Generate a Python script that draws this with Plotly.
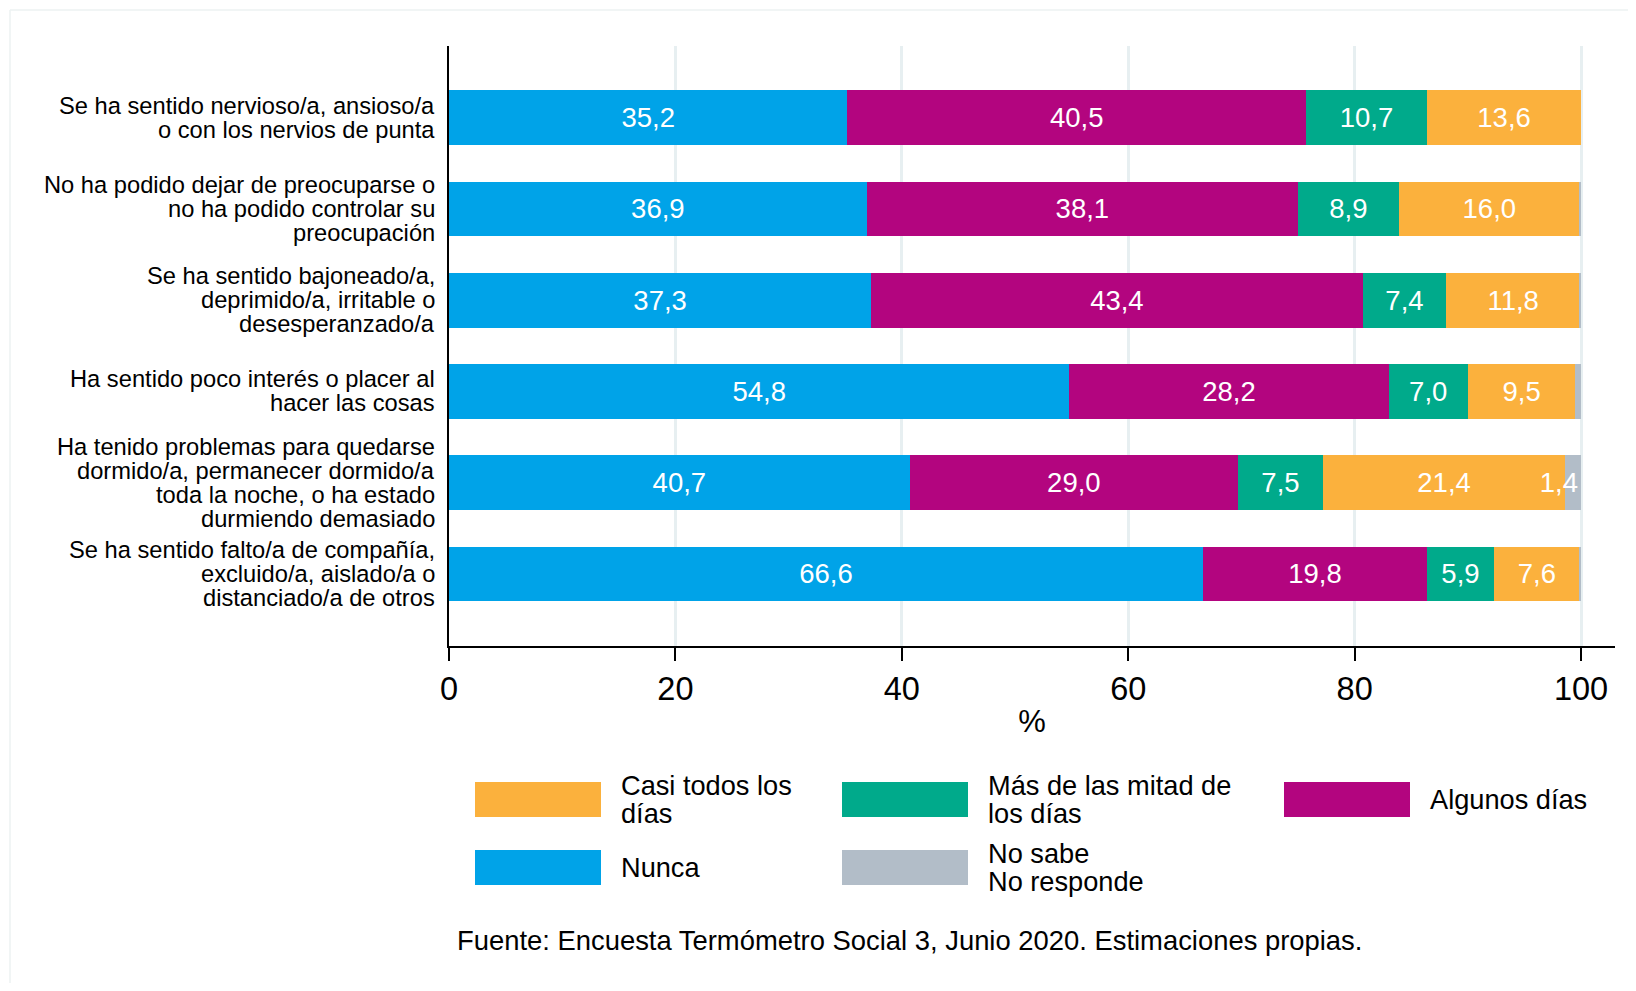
import plotly.graph_objects as go

# ---------------- data ----------------
item_lines = [
    ["Se ha sentido nervioso/a, ansioso/a", "o con los nervios de punta"],
    ["No ha podido dejar de preocuparse o", "no ha podido controlar su", "preocupación"],
    ["Se ha sentido bajoneado/a,", "deprimido/a, irritable o", "desesperanzado/a"],
    ["Ha sentido poco interés o placer al", "hacer las cosas"],
    ["Ha tenido problemas para quedarse", "dormido/a, permanecer dormido/a",
     "toda la noche, o ha estado", "durmiendo demasiado"],
    ["Se ha sentido falto/a de compañía,", "excluido/a, aislado/a o",
     "distanciado/a de otros"],
]

nunca = [35.2, 36.9, 37.3, 54.8, 40.7, 66.6]
algunos = [40.5, 38.1, 43.4, 28.2, 29.0, 19.8]
mas_mitad = [10.7, 8.9, 7.4, 7.0, 7.5, 5.9]
casi_todos = [13.6, 16.0, 11.8, 9.5, 21.4, 7.6]
no_sabe = [0.0, 0.1, 0.1, 0.5, 1.4, 0.1]

series_names = ["Nunca", "Algunos días", "Más de las mitad de los días",
                "Casi todos los días", "No sabe No responde"]
series_values = [nunca, algunos, mas_mitad, casi_todos, no_sabe]
series_colors = ["#00a3e8", "#b3057f", "#00aa8b", "#fbb13d", "#b2bdc8"]

x_ticks = [0, 20, 40, 60, 80, 100]
x_title = "%"
source_text = "Fuente: Encuesta Termómetro Social 3, Junio 2020. Estimaciones propias."

# legend layout (order & wrapped text as in the reference)
legend_items = [
    (3, ["Casi todos los", "días"]),
    (2, ["Más de las mitad de", "los días"]),
    (1, ["Algunos días"]),
    (0, ["Nunca"]),
    (4, ["No sabe", "No responde"]),
]

FONT = "Liberation Sans, Arial, sans-serif"
OFF = 8                      # page body margin
PAGE_W, PAGE_H = 1636, 991
W, H = PAGE_W - 2 * OFF, PAGE_H - 2 * OFF
# plot area in page pixels: x 449..1615, y 46..646
ML = 449 - OFF
MT = 46 - OFF
MR = W - (1615 - OFF)
MB = H - (646 - OFF)
PW, PH = W - ML - MR, H - MT - MB


def px_x(px):  # page px -> paper
    return (px - OFF - ML) / PW


def px_y(py):
    return (H - MB - (py - OFF)) / PH


def fmt(v):
    return f"{v:.1f}".replace(".", ",")


fig = go.Figure()
ypos = list(range(len(item_lines)))
for name, vals, col in zip(series_names, series_values, series_colors):
    is_last = name == series_names[-1]
    fig.add_trace(go.Bar(
        y=ypos, x=vals, name=name, orientation="h",
        marker=dict(color=col, line=dict(width=0)),
        width=0.6,
        text=[fmt(v) if v >= 1 else "" for v in vals],
        textposition="inside", textangle=0,
        insidetextanchor="end" if is_last else "middle",
        constraintext="none",
        textfont=dict(family=FONT, size=27.5, color="white"),
        showlegend=False,
        hoverinfo="x+name",
    ))

annotations = []
# y category labels, one annotation per line
LINE_STEP = 24
for i, lines in enumerate(item_lines):
    n = len(lines)
    for j, ln in enumerate(lines):
        off = (j - (n - 1) / 2) * LINE_STEP
        annotations.append(dict(
            x=0, xref="paper", y=i, yref="y", text=ln, showarrow=False,
            xanchor="right", yanchor="middle", xshift=-12, yshift=-off,
            font=dict(family=FONT, size=23.7, color="black"), align="right"))

# legend drawn with shapes + text
shapes = []
sw_x = [(475, 601), (842, 968), (1284, 1410)]
txt_x = [619, 986, 1428]
rows_y = [(782, 817), (850, 885)]
LEG_STEP = 27.5
for k, (si, lines) in enumerate(legend_items):
    col_i = k % 3
    row_i = k // 3
    x0, x1 = sw_x[col_i]
    y0, y1 = rows_y[row_i]
    shapes.append(dict(type="rect", xref="paper", yref="paper",
                       x0=px_x(x0), x1=px_x(x1), y0=px_y(y1), y1=px_y(y0),
                       fillcolor=series_colors[si], line=dict(width=0)))
    yc = (y0 + y1) / 2
    n = len(lines)
    for j, ln in enumerate(lines):
        off = (j - (n - 1) / 2) * LEG_STEP
        annotations.append(dict(
            x=px_x(txt_x[col_i]), xref="paper", y=px_y(yc + off), yref="paper",
            text=ln, showarrow=False, xanchor="left", yanchor="middle",
            font=dict(family=FONT, size=27.2, color="black")))

annotations.append(dict(
    x=px_x(455), xref="paper", y=px_y(940), yref="paper", text=source_text,
    showarrow=False, xanchor="left", yanchor="middle",
    font=dict(family=FONT, size=27.4, color="black")))

# faint outer frame of the graph region
frame = "#edf2f2"
shapes.append(dict(type="line", xref="paper", yref="paper", x0=px_x(10), x1=px_x(PAGE_W),
                   y0=px_y(10), y1=px_y(10), line=dict(color=frame, width=1.5)))
shapes.append(dict(type="line", xref="paper", yref="paper", x0=px_x(10), x1=px_x(10),
                   y0=px_y(10), y1=px_y(PAGE_H), line=dict(color=frame, width=1.5)))

fig.update_layout(
    width=W, height=H,
    margin=dict(l=ML, r=MR, t=MT, b=MB, pad=0),
    barmode="stack", bargap=0.4,
    plot_bgcolor="white", paper_bgcolor="white",
    font=dict(family=FONT, color="black"),
    annotations=annotations, shapes=shapes,
    showlegend=False,
)
fig.update_xaxes(
    range=[0, 103], tickvals=x_ticks, ticktext=[str(t) for t in x_ticks],
    showgrid=True, gridcolor="#e7eff1", gridwidth=2.5,
    showline=True, linecolor="black", linewidth=2,
    ticks="outside", ticklen=13, tickwidth=2, tickcolor="black",
    tickfont=dict(family=FONT, size=32.5, color="black"),
    title=dict(text=x_title, font=dict(family=FONT, size=31, color="black"), standoff=4),
    zeroline=False,
)
fig.update_yaxes(
    range=[5.79, -0.785], showticklabels=False, ticks="",
    showgrid=False, zeroline=False,
    showline=True, linecolor="black", linewidth=2,
)

fig.write_html("out.html")
